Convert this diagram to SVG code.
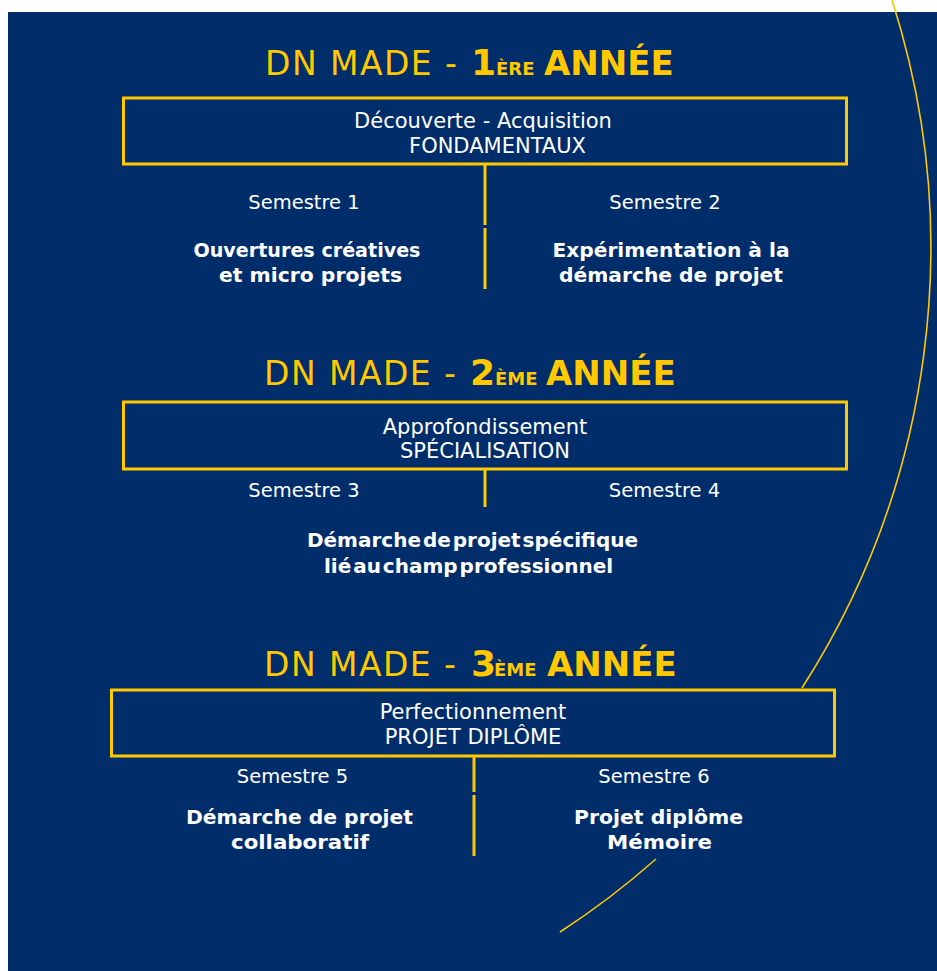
<svg xmlns="http://www.w3.org/2000/svg" width="937" height="971" viewBox="0 0 937 971">
<style>
.bg{fill:#022D6B}
.box{fill:none;stroke:#FFC800;stroke-width:3}
.conn{stroke:#FFC800;stroke-width:3;fill:none}
.arc{stroke:#FFC800;stroke-width:1.6;fill:none}
.t{font-family:"DejaVu Sans","Liberation Sans",sans-serif;fill:#FFFFFF;text-anchor:middle}
.r{font-size:21px}
.s{font-size:19.5px}
.b{font-size:20px;font-weight:bold}
.ti{font-family:"DejaVu Sans","Liberation Sans",sans-serif;fill:#FFC800}
.tr{font-size:33px}
.tb{font-size:34px;font-weight:bold}
.tn{font-size:36px;font-weight:bold}
.tsc{font-size:18px;font-weight:bold}
</style>
<rect x="0" y="0" width="937" height="971" fill="#FFFFFF"/>
<rect class="bg" x="8" y="12" width="929" height="959"/>
<g id="decor">
<path class="arc" d="M892,0 A815,815 0 0 1 802,688"/>
<path class="arc" d="M656,859 A815,815 0 0 1 560,932"/>
</g>
<g id="title1">
<text class="ti tr" x="265" y="75" textLength="192" lengthAdjust="spacing">DN MADE -</text>
<text class="ti tn" x="471" y="75">1</text>
<text class="ti tsc" x="496" y="75">ÈRE</text>
<text class="ti tb" x="544" y="75">ANNÉE</text>
</g>
<g id="box1">
<rect class="box" x="123.5" y="98" width="723" height="66"/>
<text class="t r" x="483" y="128">Découverte - Acquisition</text>
<text class="t r" x="497.5" y="153">FONDAMENTAUX</text>
</g>
<g id="sem1">
<text class="t s" x="304" y="209">Semestre 1</text>
<text class="t b" x="307" y="257" textLength="227" lengthAdjust="spacingAndGlyphs">Ouvertures créatives</text>
<text class="t b" x="310.5" y="282" textLength="183" lengthAdjust="spacingAndGlyphs">et micro projets</text>
</g>
<g id="sem2">
<text class="t s" x="665" y="209">Semestre 2</text>
<text class="t b" x="671" y="257" textLength="237" lengthAdjust="spacingAndGlyphs">Expérimentation à la</text>
<text class="t b" x="671" y="282" textLength="224" lengthAdjust="spacingAndGlyphs">démarche de projet</text>
</g>
<g id="title2">
<text class="ti tr" x="264" y="385" textLength="192" lengthAdjust="spacing">DN MADE -</text>
<text class="ti tn" x="470" y="385">2</text>
<text class="ti tsc" x="495" y="385">ÈME</text>
<text class="ti tb" x="546" y="385">ANNÉE</text>
</g>
<g id="box2">
<rect class="box" x="123.5" y="402" width="723" height="67"/>
<text class="t r" x="485" y="434">Approfondissement</text>
<text class="t r" x="485" y="458">SPÉCIALISATION</text>
</g>
<g id="sem3">
<text class="t s" x="304" y="497">Semestre 3</text>
</g>
<g id="sem4">
<text class="t s" x="664.5" y="497">Semestre 4</text>
</g>
<g id="sem34">
<text class="t b" x="472.5" y="547" word-spacing="-5">Démarche de projet spécifique</text>
<text class="t b" x="468.5" y="573" word-spacing="-5" font-size="19.5">lié au champ professionnel</text>
</g>
<g id="title3">
<text class="ti tr" x="264" y="676" textLength="192" lengthAdjust="spacing">DN MADE -</text>
<text class="ti tn" x="471" y="676">3</text>
<text class="ti tsc" x="494" y="676">ÈME</text>
<text class="ti tb" x="547" y="676">ANNÉE</text>
</g>
<g id="box3">
<rect class="box" x="111.5" y="690" width="723" height="66"/>
<text class="t r" x="473" y="719">Perfectionnement</text>
<text class="t r" x="473" y="744">PROJET DIPLÔME</text>
</g>
<g id="sem5">
<text class="t s" x="292.5" y="783">Semestre 5</text>
<text class="t b" x="299.5" y="824" textLength="227" lengthAdjust="spacingAndGlyphs">Démarche de projet</text>
<text class="t b" x="300" y="849" textLength="138" lengthAdjust="spacingAndGlyphs">collaboratif</text>
</g>
<g id="sem6">
<text class="t s" x="654" y="783">Semestre 6</text>
<text class="t b" x="658.5" y="824" textLength="169" lengthAdjust="spacingAndGlyphs">Projet diplôme</text>
<text class="t b" x="659.5" y="849" textLength="105" lengthAdjust="spacingAndGlyphs">Mémoire</text>
</g>
<g id="connectors">
<line class="conn" x1="485" y1="164" x2="485" y2="225"/>
<line class="conn" x1="485" y1="228" x2="485" y2="289"/>
<line class="conn" x1="485" y1="469" x2="485" y2="507"/>
<line class="conn" x1="474" y1="756" x2="474" y2="792"/>
<line class="conn" x1="474" y1="795" x2="474" y2="856"/>
</g>
</svg>
